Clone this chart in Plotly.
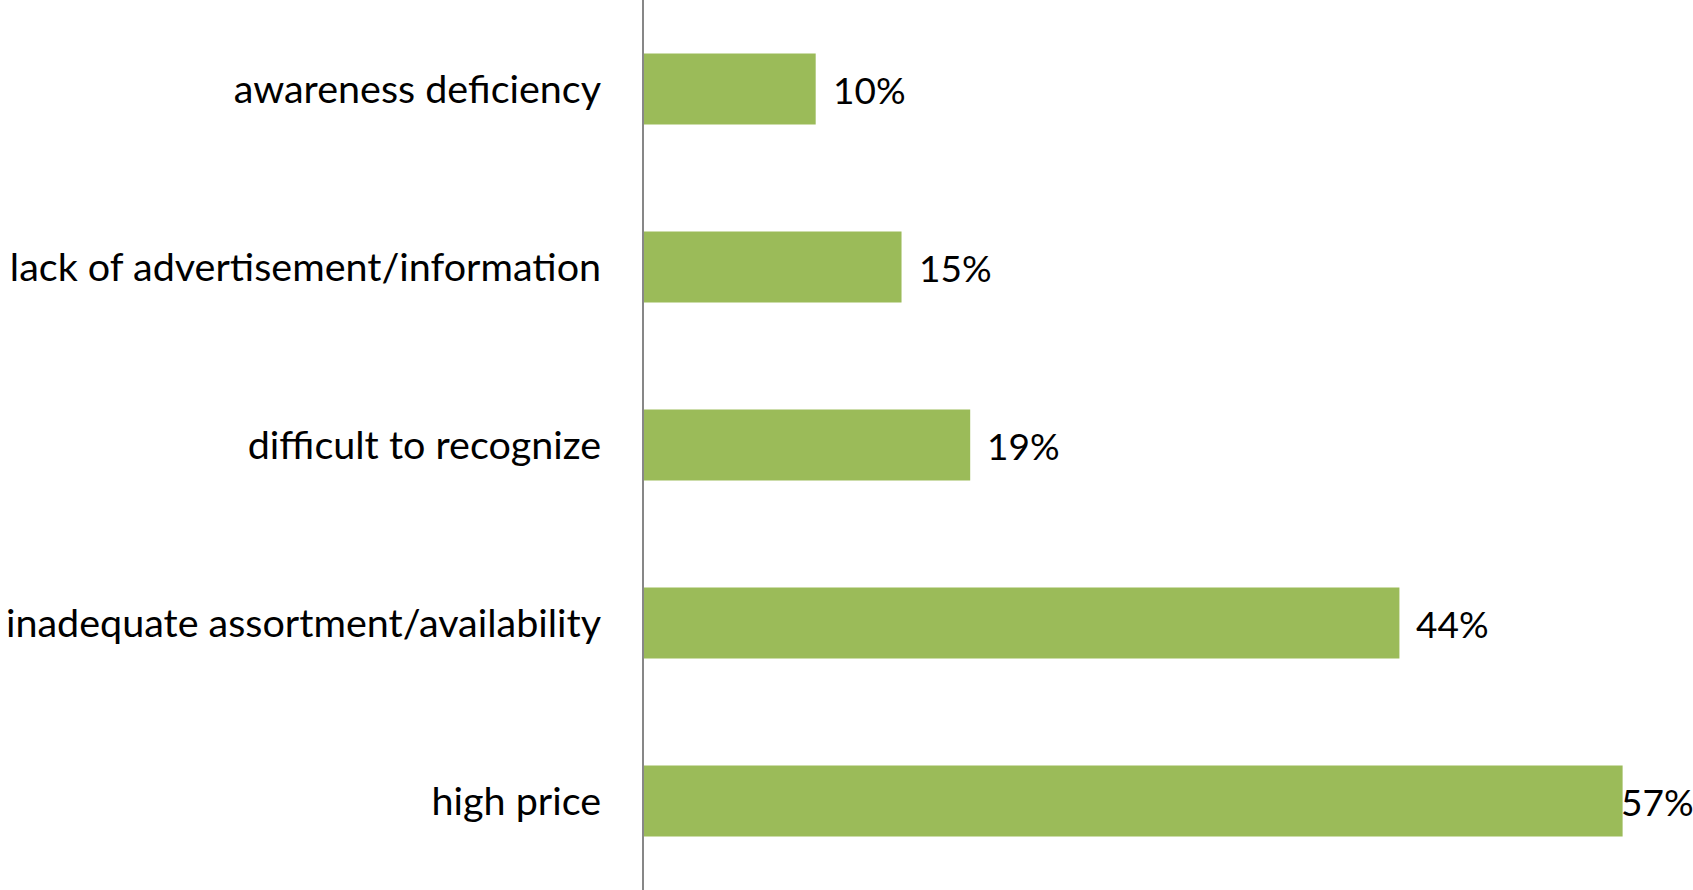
import plotly.graph_objects as go

categories = ["high price", "inadequate assortment/availability", "difficult to recognize",
              "lack of advertisement/information", "awareness deficiency"]
values = [0.57, 0.44, 0.19, 0.15, 0.10]
labels = ["57%", "44%", "19%", "15%", "10%"]
label_shift = [-4, 15, 15, 15, 15]

FONT = "Lato"
SIZE = 39.5
fig = go.Figure(go.Bar(
    y=categories, x=values, orientation="h",
    marker=dict(color="#9BBB59", line=dict(width=0)),
    hoverinfo="skip",
))
for c, v, t, s in zip(categories, values, labels, label_shift):
    fig.add_annotation(x=v, y=c, text=t, xref="x", yref="y", showarrow=False,
                       xanchor="left", yanchor="middle", xshift=s,
                       font=dict(family=FONT, size=37, color="#000000"))

fig.update_layout(
    width=1693, height=890,
    margin=dict(l=644, r=0, t=0, b=0, pad=0),
    paper_bgcolor="white", plot_bgcolor="white",
    bargap=0.6, showlegend=False,
    font=dict(family=FONT, size=SIZE, color="#000000"),
)
fig.update_xaxes(range=[0, 0.611], visible=False, showgrid=False, zeroline=False)
fig.update_yaxes(showline=True, linecolor="#878787", linewidth=2, showgrid=False,
                 zeroline=False, ticks="", automargin=False, ticklabelstandoff=33,
                 tickfont=dict(family=FONT, size=SIZE, color="#000000"))
fig.write_html("out.html", config={"displayModeBar": False},
               post_script="document.body.style.margin='0';document.body.style.overflow='hidden';")
